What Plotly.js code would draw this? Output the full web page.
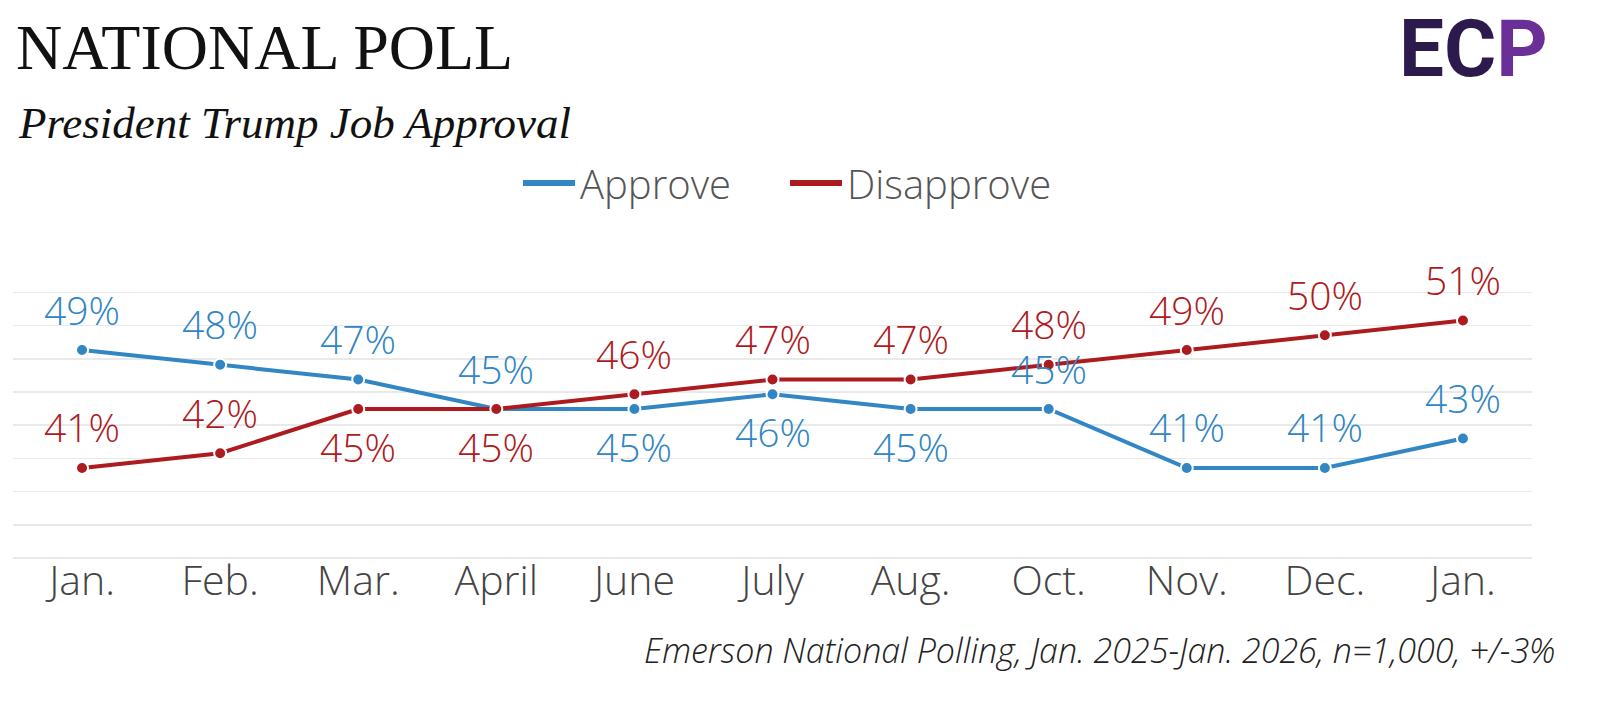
<!DOCTYPE html>
<html><head><meta charset="utf-8">
<script src="https://cdn.plot.ly/plotly-3.0.1.min.js"></script>
<style>html,body{margin:0;padding:0;background:#fff}#chart{width:1600px;height:701px}</style>
</head><body><div id="chart"></div>
<script>
const months = ['Jan.','Feb.','Mar.','April','June','July','Aug.','Oct.','Nov.','Dec.','Jan.'];
const approve = [49,48,47,45,45,46,45,45,41,41,43];
const disapprove = [41,42,45,45,46,47,47,48,49,50,51];
const approveLabelSide = ['up','up','up','up','down','down','down','up','up','up','up'];
const disapproveLabelSide = ['up','up','down','down','up','up','up','up','up','up','up'];

const BLUE = '#3186c3';
const RED = '#ae1b1e';
const xs = months.map((m,i)=>i);

const traces = [
  {x: xs, y: approve, mode:'lines+markers', showlegend:false, hoverinfo:'skip',
   line:{color:BLUE,width:4}, marker:{color:BLUE,size:12,line:{color:'#fff',width:2}}},
  {x: xs, y: disapprove, mode:'lines+markers', showlegend:false, hoverinfo:'skip',
   line:{color:RED,width:4}, marker:{color:RED,size:12,line:{color:'#fff',width:2}}},
  {x:[null], y:[null], mode:'lines', name:'Approve', line:{color:BLUE,width:6}},
  {x:[null], y:[null], mode:'lines', name:'Disapprove', line:{color:RED,width:6}}
];

const labelFont = {family:'Open Sans', size:39, weight:300};
const annotations = [];
approve.forEach((v,i)=>annotations.push({x:i, y:v, xref:'x', yref:'y', text:v+'%', showarrow:false,
  yanchor:'middle', yshift: approveLabelSide[i]==='up'?41:-37, font:Object.assign({color:BLUE},labelFont)}));
disapprove.forEach((v,i)=>annotations.push({x:i, y:v, xref:'x', yref:'y', text:v+'%', showarrow:false,
  yanchor:'middle', yshift: disapproveLabelSide[i]==='up'?41:-37, font:Object.assign({color:RED},labelFont)}));

// subtitle
annotations.push({xref:'paper', yref:'paper', x:(16-13)/1519, y:(560-123)/298, xanchor:'left', yanchor:'middle',
  text:'<i>President Trump Job Approval</i>', showarrow:false,
  font:{family:'Liberation Serif', size:45, color:'#111'}});
// source
annotations.push({xref:'paper', yref:'paper', x:(1558-13)/1519, y:(560-650)/298, xanchor:'right', yanchor:'middle',
  text:'<i>Emerson National Polling, Jan. 2025-Jan. 2026, n=1,000, +/-3%</i>', showarrow:false,
  font:{family:'Open Sans', size:34, color:'#222', weight:300}});
// logo
annotations.push({xref:'paper', yref:'paper', x:(1550-13)/1519, y:(560-0)/298, xanchor:'right', yanchor:'top',
  text:'<b>EC<span style="color:#6b2f98">P</span></b>', showarrow:false,
  font:{family:'Roboto', size:80, color:'#2c1a4c', weight:900}});

const layout = {
  width:1600, height:701,
  paper_bgcolor:'#fff', plot_bgcolor:'#fff',
  margin:{l:13, r:68, t:262, b:141},
  title:{text:'NATIONAL POLL', x:16/1600, xanchor:'left', xref:'container', y:1-47/701, yref:'container', yanchor:'middle',
    font:{family:'Liberation Serif', size:64, color:'#111'}},
  showlegend:true,
  legend:{orientation:'h', x:(785-13)/1519, xanchor:'center', y:(560-183)/298, yanchor:'middle',
    font:{family:'Open Sans', size:40, color:'#555', weight:300}, itemwidth:52, entrywidth:200, bgcolor:'rgba(0,0,0,0)'},
  xaxis:{range:[-0.5,10.5], tickvals:xs, ticktext:months, showgrid:false, zeroline:false, showline:false,
    ticks:'', ticklabelstandoff:-7, tickfont:{family:'Open Sans', size:41, color:'#444', weight:300}, fixedrange:true},
  yaxis:{range:[34.76,54.97], tick0:34.9, dtick:2.25, showticklabels:false, showgrid:true,
    gridcolor:'#e9e9e9', gridwidth:1.5, zeroline:false, showline:false, ticks:'', fixedrange:true},
  annotations: annotations
};

Plotly.newPlot('chart', traces, layout, {staticPlot:true, displayModeBar:false});
</script>
</body></html>
